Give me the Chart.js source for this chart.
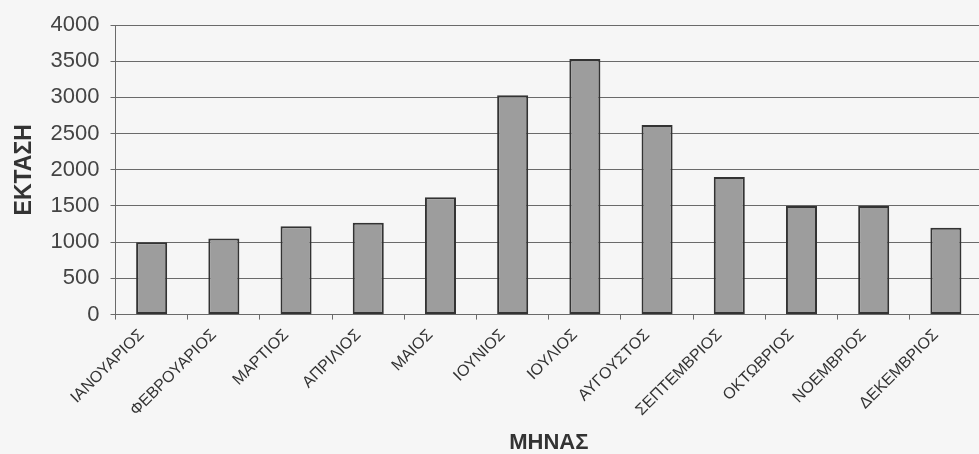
<!DOCTYPE html>
<html lang="el">
<head>
<meta charset="utf-8">
<title>ΕΚΤΑΣΗ ανά ΜΗΝΑ</title>
<script src="https://cdn.jsdelivr.net/npm/chart.js@4.4.1/dist/chart.umd.min.js"></script>
<style>
  html, body { margin: 0; padding: 0; overflow: hidden; background: #f6f6f6; }
  #wrap { position: relative; width: 985px; height: 454px; }
</style>
</head>
<body>
<div id="wrap"><canvas id="chart"></canvas></div>
<script>
// Months of the year (category axis)
const months = [
  'ΙΑΝΟΥΑΡΙΟΣ', 'ΦΕΒΡΟΥΑΡΙΟΣ', 'ΜΑΡΤΙΟΣ', 'ΑΠΡΙΛΙΟΣ', 'ΜΑΙΟΣ', 'ΙΟΥΝΙΟΣ',
  'ΙΟΥΛΙΟΣ', 'ΑΥΓΟΥΣΤΟΣ', 'ΣΕΠΤΕΜΒΡΙΟΣ', 'ΟΚΤΩΒΡΙΟΣ', 'ΝΟΕΜΒΡΙΟΣ', 'ΔΕΚΕΜΒΡΙΟΣ'
];

// Area per month
const areaValues = [1000, 1050, 1220, 1270, 1620, 3030, 3530, 2620, 1900, 1500, 1500, 1200];

// Value axis range
const yMin = 0;
const yMax = 4000;
const yStep = 500;

const FONT = "'Liberation Sans', Arial, sans-serif";
const GRID = '#6a6a6a';

new Chart(document.getElementById('chart'), {
  type: 'bar',
  data: {
    labels: months,
    datasets: [{
      data: areaValues,
      backgroundColor: '#9d9d9d',
      borderColor: '#333333',
      borderWidth: 2,
      borderSkipped: false,
      categoryPercentage: 1,
      barPercentage: 0.43
    }]
  },
  options: {
    responsive: true,
    maintainAspectRatio: false,
    animation: false,
    layout: { padding: { left: 7, top: 25, right: 3, bottom: 0 } },
    plugins: {
      legend: { display: false },
      tooltip: { enabled: false }
    },
    scales: {
      x: {
        grid: {
          offset: true,
          drawOnChartArea: false,
          drawTicks: true,
          tickLength: 5,
          color: GRID
        },
        border: { display: true, color: GRID, width: 1 },
        ticks: {
          autoSkip: false,
          minRotation: 45,
          maxRotation: 45,
          labelOffset: -10,
          padding: 6,
          color: '#333',
          font: { family: FONT, size: 16 }
        },
        title: {
          display: true,
          text: 'ΜΗΝΑΣ',
          color: '#333',
          font: { family: FONT, size: 22, weight: 'bold', lineHeight: 1 },
          padding: { top: 6, bottom: 0 }
        }
      },
      y: {
        min: yMin,
        max: yMax,
        grid: {
          color: GRID,
          lineWidth: 1,
          drawTicks: true,
          tickLength: 5
        },
        border: { display: true, color: GRID, width: 1 },
        ticks: {
          stepSize: yStep,
          padding: 11,
          color: '#444',
          font: { family: FONT, size: 22 },
          callback: (value) => String(value)
        },
        title: {
          display: true,
          text: 'ΕΚΤΑΣΗ',
          color: '#333',
          font: { family: FONT, size: 23, weight: 'bold' },
          padding: { top: 4, bottom: 1 }
        }
      }
    }
  }
});
</script>
</body>
</html>
